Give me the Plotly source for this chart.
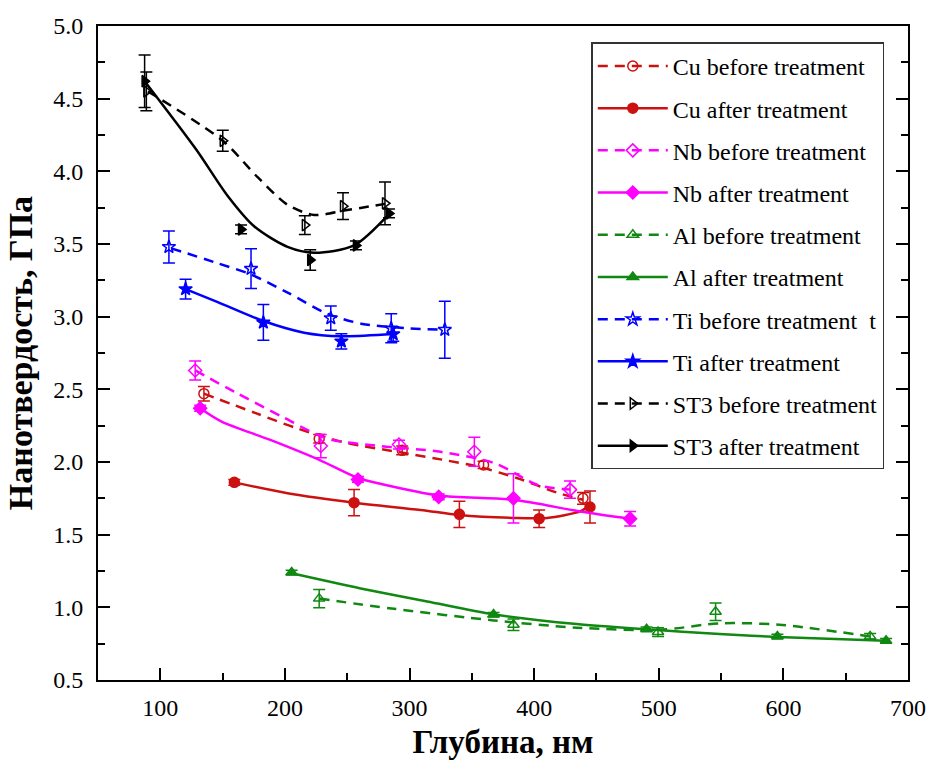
import plotly.graph_objects as go

# ---------------- data ----------------
cu_b_x = [135, 227.5, 294.1, 359.4, 439.2]
cu_b_y = [2.47, 2.16, 2.08, 1.98, 1.75]
cu_b_e = [0.05, 0.03, 0.03, 0.025, 0.04]
cu_a_x = [159.4, 255.5, 340, 404, 444.8]
cu_a_y = [1.86, 1.72, 1.64, 1.61, 1.69]
cu_a_e = [0.02, 0.09, 0.09, 0.06, 0.11]

nb_b_x = [128, 228.8, 291.5, 352, 428.8]
nb_b_y = [2.63, 2.11, 2.12, 2.07, 1.81]
nb_b_e = [0.065, 0.08, 0.03, 0.1, 0.06]
nb_a_x = [132, 258.6, 323.4, 383.4, 477]
nb_a_y = [2.37, 1.88, 1.76, 1.75, 1.61]
nb_a_e = [0.02, 0.02, 0.02, 0.17, 0.05]

al_b_x = [227.5, 383.4, 499.4, 545.6, 669.6]
al_b_y = [1.06, 0.88, 0.83, 0.97, 0.80]
al_b_e = [0.063, 0.04, 0.03, 0.06, 0.02]
al_a_x = [205.4, 367.4, 490.2, 595.2, 682.4]
al_a_y = [1.24, 0.95, 0.85, 0.80, 0.77]
al_a_e = [0.015, 0.015, 0.015, 0.015, 0.015]

ti_b_x = [106.9, 172.8, 236.8, 285.3, 328.3]
ti_b_y = [3.48, 3.33, 2.99, 2.92, 2.91]
ti_b_e = [0.11, 0.137, 0.083, 0.1, 0.196]
ti_a_x = [120.3, 182.7, 245.3, 286.9]
ti_a_y = [3.19, 2.96, 2.83, 2.88]
ti_a_e = [0.068, 0.123, 0.052, 0.05]

st_b_x = [88.8, 150.1, 216, 246.6, 280.3]
st_b_y = [4.55, 4.21, 3.63, 3.76, 3.78]
st_b_e = [0.134, 0.072, 0.065, 0.092, 0.147]
st_a_x = [87.4, 164.8, 220.3, 257, 283.5]
st_a_y = [4.62, 3.60, 3.39, 3.49, 3.71]
st_a_e = [0.18, 0.03, 0.07, 0.03, 0.03]

# smoothed curves as drawn in the picture
cu_b_cx = [135, 175.4, 210.2, 250.2, 290.2, 330.2, 354.1, 386.1, 418.1, 439.2]
cu_b_cy = [2.47, 2.34, 2.23, 2.13, 2.07, 2.01, 1.97, 1.89, 1.79, 1.74]
cu_a_cx = [159.4, 202.1, 255.5, 308.8, 340, 383.4, 410.2, 436.8, 444.8]
cu_a_cy = [1.86, 1.785, 1.72, 1.67, 1.635, 1.615, 1.615, 1.66, 1.70]
nb_b_cx = [128, 162.2, 198.2, 234.2, 276.8, 324.8, 368.8, 403.4, 428.8]
nb_b_cy = [2.63, 2.47, 2.31, 2.16, 2.11, 2.07, 1.99, 1.84, 1.81]
nb_a_cx = [132, 148.8, 188.8, 228.8, 258.6, 276.8, 323.4, 383.4, 436.8, 477]
nb_a_cy = [2.37, 2.28, 2.15, 2.01, 1.89, 1.85, 1.77, 1.74, 1.66, 1.61]
al_b_cx = [227.5, 287.4, 367.4, 434.2, 500.8, 548.8, 596.8, 669.6]
al_b_cy = [1.06, 0.99, 0.91, 0.86, 0.845, 0.89, 0.88, 0.80]
al_a_cx = [205.4, 260.8, 314.2, 367.4, 434.2, 490.2, 548.8, 595.2, 682.4]
al_a_cy = [1.234, 1.13, 1.04, 0.952, 0.885, 0.849, 0.817, 0.796, 0.77]
ti_b_cx = [108.8, 143.4, 172.8, 203.4, 234.1, 262.1, 299.4, 328.3]
ti_b_cy = [3.47, 3.375, 3.29, 3.16, 3.02, 2.95, 2.92, 2.91]
ti_a_cx = [120.3, 146.1, 182.7, 215.4, 245.3, 286.9]
ti_a_cy = [3.19, 3.10, 2.97, 2.89, 2.865, 2.88]
st_b_cx = [90.1, 150.1, 178.1, 202.1, 223.5, 247.5, 280.3]
st_b_cy = [4.55, 4.21, 3.96, 3.77, 3.70, 3.73, 3.776]
st_a_cx = [87.4, 128.8, 154.1, 175.5, 202.1, 223.5, 255.5, 283.5]
st_a_cy = [4.62, 4.15, 3.83, 3.62, 3.48, 3.44, 3.49, 3.705]

labels = ["Cu before treatment", "Cu after treatment",
          "Nb before treatment", "Nb after treatment",
          "Al before treatment", "Al after treatment",
          "Ti before treatment  t", "Ti after treatment",
          "ST3 before treatment", "ST3 after treatment"]

x_ticks = [100, 200, 300, 400, 500, 600, 700]

RED = "#CC1111"
MAG = "#FF00FF"
GRN = "#118811"
BLU = "#0000FF"
BLK = "#000000"

series = [
    (cu_b_x, cu_b_y, cu_b_e, cu_b_cx, cu_b_cy, RED, "circle-open", "dash"),
    (cu_a_x, cu_a_y, cu_a_e, cu_a_cx, cu_a_cy, RED, "circle", "solid"),
    (nb_b_x, nb_b_y, nb_b_e, nb_b_cx, nb_b_cy, MAG, "diamond-open", "dash"),
    (nb_a_x, nb_a_y, nb_a_e, nb_a_cx, nb_a_cy, MAG, "diamond", "solid"),
    (al_b_x, al_b_y, al_b_e, al_b_cx, al_b_cy, GRN, "triangle-up-open", "dash"),
    (al_a_x, al_a_y, al_a_e, al_a_cx, al_a_cy, GRN, "triangle-up", "solid"),
    (ti_b_x, ti_b_y, ti_b_e, ti_b_cx, ti_b_cy, BLU, "star-open", "dash"),
    (ti_a_x, ti_a_y, ti_a_e, ti_a_cx, ti_a_cy, BLU, "star", "solid"),
    (st_b_x, st_b_y, st_b_e, st_b_cx, st_b_cy, BLK, "triangle-right-open", "dash"),
    (st_a_x, st_a_y, st_a_e, st_a_cx, st_a_cy, BLK, "triangle-right", "solid"),
]

FONT = "Liberation Serif"
DASH = "10px,7px"

fig = go.Figure()
for i, (x, y, e, cx, cy, col, sym, ls) in enumerate(series):
    dash = DASH if ls == "dash" else "solid"
    fig.add_trace(go.Scatter(
        x=cx, y=cy, mode="lines", line=dict(color=col, width=2.5, dash=dash, shape="spline", smoothing=0.8),
        showlegend=False, hoverinfo="skip"))
    fig.add_trace(go.Scatter(
        x=x, y=y, mode="markers",
        marker=dict(symbol=sym, size=10, color=col, line=dict(color=col, width=1.5)),
        error_y=dict(type="data", array=e, visible=True, color=col, thickness=1.5, width=6),
        showlegend=False))
    # legend entry
    fig.add_trace(go.Scatter(
        x=[None], y=[None], mode="lines+markers", name=labels[i], legendgroup=f"g{i}",
        line=dict(color=col, width=2.5, dash=dash),
        marker=dict(symbol=sym, size=10, color=col, line=dict(color=col, width=1.5))))

axis_common = dict(
    showline=True, linecolor="black", linewidth=2,
    ticks="inside", ticklen=12, tickwidth=2, tickcolor="black",
    showgrid=False, zeroline=False, automargin=False,
    tickfont=dict(family=FONT, size=24, color="black"),
)

fig.update_xaxes(
    range=[50, 700], tickvals=x_ticks, mirror=True,
    minor=dict(ticks="inside", ticklen=7, tickwidth=2, dtick=50, tick0=0, tickcolor="black"),
    ticklabelstandoff=5,
    title=dict(text="Глубина, нм", font=dict(family=FONT, size=33, color="black", weight="bold"), standoff=14),
    **axis_common)
fig.update_yaxes(
    range=[0.5, 5.0], dtick=0.5, tick0=0.5, tickformat=".1f", mirror="ticks",
    minor=dict(ticks="inside", ticklen=7, tickwidth=2, dtick=0.25, tickcolor="black"),
    ticklabelstandoff=8,
    title=dict(text="Нанотвердость, ГПа", font=dict(family=FONT, size=34, color="black", weight="bold"), standoff=10),
    **axis_common)

fig.update_layout(
    width=932, height=760,
    margin=dict(l=98, r=24, t=26, b=80),
    paper_bgcolor="white", plot_bgcolor="white",
    font=dict(family=FONT, color="black"),
    showlegend=True,
    legend=dict(
        x=0.609, y=0.975, xanchor="left", yanchor="top",
        bgcolor="white", bordercolor="#333333", borderwidth=1.5,
        font=dict(family=FONT, size=24, color="black"),
        tracegroupgap=8, itemwidth=70,
    ),
)

fig.write_html("out.html")
